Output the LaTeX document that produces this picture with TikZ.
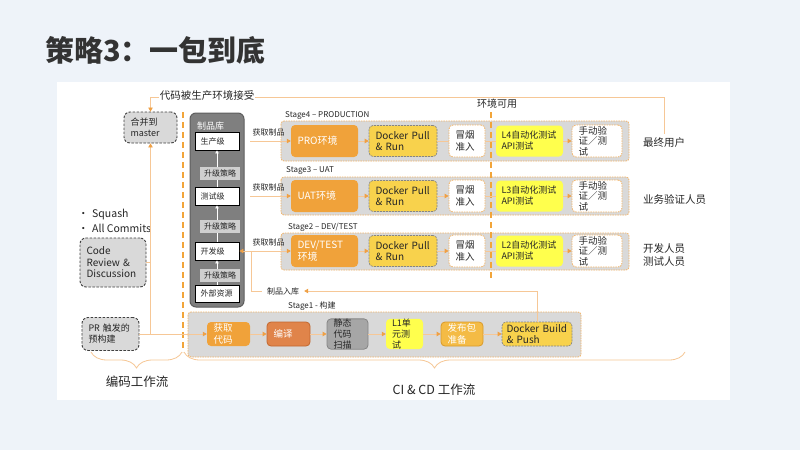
\documentclass[tikz,border=0pt]{standalone}
\usepackage{fontspec}
\setmainfont{Noto Sans CJK SC}
\usetikzlibrary{arrows.meta,decorations.pathreplacing,calc}
\definecolor{bgc}{HTML}{EEF3F9}
\definecolor{titlec}{HTML}{333333}
\definecolor{txtc}{HTML}{262626}
\definecolor{linec}{HTML}{F6C796}
\definecolor{arrc}{HTML}{EFA045}
\definecolor{sepc}{HTML}{F2A53A}
\definecolor{panelg}{HTML}{D9D9D9}
\definecolor{panelb}{HTML}{F2B366}
\definecolor{orgc}{HTML}{F0A23A}
\definecolor{orgdk}{HTML}{E0844A}
\definecolor{orgdkb}{HTML}{C2672E}
\definecolor{goldc}{HTML}{F8D24C}
\definecolor{brightc}{HTML}{FFFF4D}
\definecolor{pkgc}{HTML}{F4BB45}
\definecolor{pkgb}{HTML}{D99A2A}
\definecolor{scanc}{HTML}{A6A6A6}
\definecolor{repoc}{HTML}{7F7F7F}
\definecolor{repob}{HTML}{5E5E5E}
\definecolor{polc}{HTML}{CFCFCF}
\definecolor{boxg}{HTML}{D9D9D9}
\definecolor{dashg}{HTML}{858585}
\newcommand\fsz[2]{\fontsize{#1}{#2}\selectfont}
\tikzset{
 txt/.style={inner sep=0pt, align=left, text=txtc},
 con/.style={draw=linec, line width=0.8pt},
 arr/.style={con, -{Triangle[length=4pt,width=4.5pt,color=arrc]}},
 sepline/.style={draw=sepc, line width=2pt, dash pattern=on 6pt off 4pt},
 panel/.style={draw=panelb, fill=panelg, line width=0.8pt, dash pattern=on 1.5pt off 1pt, rounded corners=3pt},
 bx/.style={rectangle, rounded corners=4pt, inner xsep=6.5pt, inner ysep=0pt, align=left},
 envb/.style={bx, fill=orgc, text=white, font=\fsz{10}{12}},
 dockb/.style={bx, fill=goldc, draw=dashg, dash pattern=on 2pt off 1pt, line width=0.7pt, text=txtc, font=\fsz{10}{11.5}},
 smokeb/.style={bx, fill=white, draw=panelb, dash pattern=on 1.5pt off 1pt, line width=0.8pt, text=txtc, font=\fsz{9.5}{11.5}},
 ltb/.style={bx, inner xsep=5.5pt, fill=brightc, text=txtc, font=\fsz{9}{11}},
 manb/.style={bx, fill=white, draw=panelb, dash pattern=on 1.5pt off 1pt, line width=0.8pt, text=txtc, font=\fsz{9.5}{10.5}},
 grayb/.style={bx, fill=boxg, draw=darkgray, dash pattern=on 2.5pt off 1.5pt, line width=0.9pt, rounded corners=6pt, text=txtc},
 lvl/.style={rectangle, draw=black, line width=0.9pt, fill=white, minimum width=44pt, minimum height=18pt, text width=33pt, inner xsep=5.5pt, inner ysep=0pt, align=left, font=\fsz{8}{9}, text=txtc},
 pol/.style={rectangle, fill=polc, minimum width=40pt, minimum height=13pt, inner sep=0pt, font=\fsz{8}{9}, text=txtc},
 wline/.style={draw=white, line width=0.7pt, -{Triangle[length=3pt,width=3.5pt]}},
 lab/.style={txt, font=\fsz{8}{9}},
 brc/.style={draw=linec, line width=0.8pt, decorate, decoration={brace, mirror, amplitude=16pt}},
}
\begin{document}
\begin{tikzpicture}[x=1pt,y=-1pt]
\fill[bgc] (0,0) rectangle (800,450);
\useasboundingbox (0,0) rectangle (800,450);
\fill[white] (57,82) rectangle (730,400);

% title
\node[txt, anchor=west, text=titlec, font=\fsz{29}{32}\bfseries] (title) at (45,50) {策略3：一包到底};

% ---------- left: coding workflow ----------
\node[grayb, font=\fsz{9}{11}, minimum width=53pt, minimum height=31pt, text width=40pt] (master) at (150.5,127.5) {合并到\\master};
\node[grayb, font=\fsz{10}{11.5}, minimum width=66pt, minimum height=49pt, text width=53pt] (cr) at (113,262.5) {Code\\Review \&\\Discussion};
\node[grayb, font=\fsz{9}{11}, minimum width=57pt, minimum height=33pt, text width=44pt] (pr) at (110.5,334) {PR 触发的\\预构建};
\node[txt, anchor=west, font=\fsz{10.5}{12}] (b1) at (78,215) {\makebox[14pt][l]{•}Squash};
\node[txt, anchor=west, font=\fsz{10.5}{12}] (b2) at (78,228) {\makebox[14pt][l]{•}All Commits};

\node[txt, font=\fsz{10.5}{12}] (accept) at (207,96) {代码被生产环境接受};

% separators
\draw[sepline] (183,112) -- (183,352);

% ---------- artifact repository ----------
\node[rectangle, rounded corners=6pt, fill=repoc, draw=repob, line width=1pt, minimum width=54pt, minimum height=194pt, inner sep=0pt] (repo) at (217,210) {};
\node[txt, anchor=west, text=white, font=\fsz{9}{10}] (repot) at (197,126) {制品库};
\node[lvl] (prod) at (217,141) {生产级};
\node[lvl] (test) at (217,196) {测试级};
\node[lvl] (dev) at (217,251) {开发级};
\node[lvl, minimum height=17pt] (ext) at (217,293.5) {外部资源};
\draw[wline] (test.north) -- (prod.south);
\draw[wline] (dev.north) -- (test.south);
\draw[wline] (ext.north) -- (dev.south);
\node[pol] (pol1) at (220,173) {升级策略};
\node[pol] (pol2) at (220,226.5) {升级策略};
\node[pol] (pol3) at (220,275.5) {升级策略};

% ---------- stage panels ----------
\draw[panel] (281,121) rectangle (629,161);
\draw[panel] (281,177) rectangle (629,215);
\draw[panel] (281,233) rectangle (629,270);
\draw[panel] (188,312) rectangle (581,357);
\node[lab, anchor=west] (s4) at (285,116) {Stage4 – PRODUCTION};
\node[lab, anchor=west] (s3) at (286,171) {Stage3 – UAT};
\node[lab, anchor=west] (s2) at (288,227) {Stage2 – DEV/TEST};
\node[lab, anchor=west] (s1) at (288,306) {Stage1 - 构建};

\draw[sepline] (491,112) -- (491,278);
\node[txt, font=\fsz{10}{11}] (avail) at (497,104) {环境可用};

% row 4
\node[envb, minimum width=67pt, minimum height=32pt, text width=54pt] (env4) at (324.5,141) {PRO环境};
\node[dockb, minimum width=68pt, minimum height=31pt, text width=55pt] (dk4) at (403,141) {Docker Pull\\\& Run};
\node[smokeb, minimum width=36pt, minimum height=32pt, text width=23pt] (sm4) at (467,141) {冒烟\\准入};
\node[ltb, minimum width=67pt, minimum height=31pt, text width=56pt] (lt4) at (529.5,141) {L4自动化测试\\API测试};
\node[manb, minimum width=50pt, minimum height=32pt, text width=37pt] (mn4) at (597,141) {手动验\\证／测\\试};
% row 3
\node[envb, minimum width=67pt, minimum height=32pt, text width=54pt] (env3) at (324.5,196) {UAT环境};
\node[dockb, minimum width=68pt, minimum height=31pt, text width=55pt] (dk3) at (403,196) {Docker Pull\\\& Run};
\node[smokeb, minimum width=36pt, minimum height=32pt, text width=23pt] (sm3) at (467,196) {冒烟\\准入};
\node[ltb, minimum width=67pt, minimum height=31pt, text width=56pt] (lt3) at (529.5,196) {L3自动化测试\\API测试};
\node[manb, minimum width=50pt, minimum height=32pt, text width=37pt] (mn3) at (597,196) {手动验\\证／测\\试};
% row 2
\node[envb, minimum width=67pt, minimum height=32pt, text width=54pt] (env2) at (324.5,251) {DEV/TEST\\环境};
\node[dockb, minimum width=68pt, minimum height=31pt, text width=55pt] (dk2) at (403,251) {Docker Pull\\\& Run};
\node[smokeb, minimum width=36pt, minimum height=32pt, text width=23pt] (sm2) at (467,251) {冒烟\\准入};
\node[ltb, minimum width=67pt, minimum height=31pt, text width=56pt] (lt2) at (529.5,251) {L2自动化测试\\API测试};
\node[manb, minimum width=50pt, minimum height=32pt, text width=37pt] (mn2) at (597,251) {手动验\\证／测\\试};

% right labels
\node[txt, anchor=west, font=\fsz{10.5}{12}] (user) at (643,143) {最终用户};
\node[txt, anchor=west, font=\fsz{10.5}{12}] (biz) at (643,199) {业务验证人员};
\node[txt, anchor=west, font=\fsz{10.5}{13}] (devs) at (643,255) {开发人员\\测试人员};

% stage 1
\node[envb, font=\fsz{9.5}{11.5}, minimum width=43pt, minimum height=24pt, text width=30pt] (fetch) at (228.5,334) {获取\\代码};
\node[bx, fill=orgdk, draw=orgdkb, line width=0.8pt, text=white, font=\fsz{9.5}{11.5}, minimum width=43pt, minimum height=24pt, text width=30pt] (comp) at (288.5,334) {编译};
\node[bx, fill=scanc, draw=dashg, line width=0.8pt, text=txtc, font=\fsz{9}{11}, minimum width=41pt, minimum height=24pt, text width=28pt] (scan) at (347.5,334) {静态\\代码\\扫描};
\node[bx, fill=brightc, text=txtc, font=\fsz{9}{11}, inner xsep=6pt, minimum width=37pt, minimum height=24pt, text width=25pt] (lone) at (404.5,334) {L1单\\元测\\试};
\node[bx, fill=pkgc, draw=pkgb, line width=0.8pt, text=white, font=\fsz{9.5}{11.5}, minimum width=42pt, minimum height=24pt, text width=29pt] (pkg) at (462,334) {发布包\\准备};
\node[dockb, inner xsep=4.5pt, minimum width=70pt, minimum height=24pt, text width=61pt] (dbuild) at (537,334) {Docker Build\\\& Push};

% ---------- connectors ----------
\draw[arr] ($(accept.west)+(-1,1)$) -| (master.north);
\draw[con] ($(accept.east)+(1,1)$) -| ($(user.north)+(0,-4)$);
\draw[arr] (pr.east) -| (master.south);
\draw[con] (cr.east) -- (cr.east -| master.south);
\draw[arr] (pr.east) -- (fetch.west);

\foreach \a/\b in {fetch/comp, comp/scan, scan/lone, lone/pkg, pkg/dbuild}
  \draw[arr] (\a.east) -- (\b.west);

\foreach \lv/\r in {prod/4, test/3, dev/2} {
  \draw[arr] ($(\lv.east)+(11,0)$) -- (env\r.west)
     node[lab, pos=0.45, above=4pt] {获取制品};
  \draw[arr] (env\r.east) -- (dk\r.west);
  \draw[con] (sm\r.east) -- (lt\r.west);
  \draw[arr] (lt\r.east) -- (mn\r.west);
}
\draw[con] (dk4.east) -- (sm4.west);
\draw[arr] (dk3.east) -- (sm3.west);
\draw[arr] (dk2.east) -- (sm2.west);

\node[lab, inner xsep=5pt, fill=white] (store) at (283,291) {制品入库};
\coordinate (sbend) at (251,291);
\draw[arr] (dbuild.north) |- (store.east);
\draw[arr] (store.west) -- (sbend) |- (dev.east);

% braces
\draw[brc] (91,352) -- (182,352);
\draw[brc] (184,352) -- (685,352);
\node[txt, font=\fsz{12.5}{14}] (codewf) at (137,382) {编码工作流};
\node[txt, font=\fsz{12.5}{14}] (ciwf) at (434,390) {CI \& CD 工作流};
\end{tikzpicture}
\end{document}
